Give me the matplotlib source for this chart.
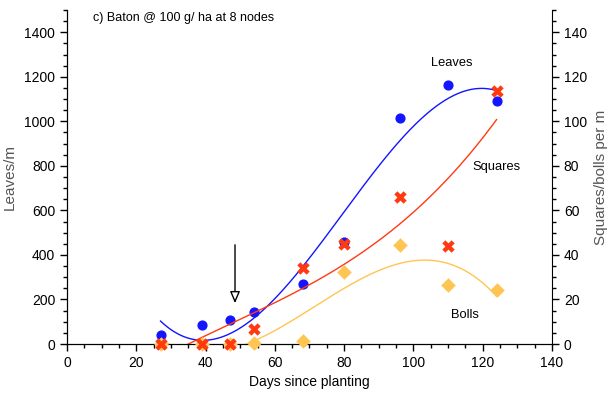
import matplotlib
matplotlib.use("Agg")
import matplotlib.pyplot as plt
import numpy as np
from matplotlib.ticker import MultipleLocator

plt.rcParams['font.family'] = ['Liberation Sans', 'DejaVu Sans']
plt.rcParams['font.size'] = 10

# sampling days
days = [27, 39, 47, 54, 68, 80, 96, 110, 124]
# leaves per m (left axis)
leaves = [40, 85, 108, 145, 271, 459, 1017, 1161, 1090]
# squares and bolls per m (right axis)
squares = [0, 0, 0, 6.8, 34, 45, 66, 44, 113.5]
bolls = [0, 0, 0, 0.5, 1.5, 32.3, 44.4, 26.3, 24.3]

leafColor = '#1414ff'
squareColor = '#ff3a12'
bollColor = '#ffc552'

fig = plt.figure(figsize=(6.09, 3.96), dpi=100)
ax = fig.add_axes([0.110, 0.1313, 0.7964, 0.8434])
ax2 = ax.twinx()

# cubic trend lines fitted to each series
xs = np.linspace(min(days), max(days), 300)
leafFit = np.polyval(np.polyfit(days, leaves, 3), xs)
squareFit = np.polyval(np.polyfit(days, squares, 3), xs)
bollFit = np.polyval(np.polyfit(days, bolls, 3), xs)

ax.plot(xs, leafFit, color=leafColor, lw=1)
ax2.plot(xs, squareFit, color=squareColor, lw=1)
ax2.plot(xs, bollFit, color=bollColor, lw=1)

ax.scatter(days, leaves, s=40, color=leafColor, zorder=5, clip_on=False)
ax2.scatter(days, bolls, s=55, marker='D', color=bollColor, zorder=4, clip_on=False, linewidths=0)
ax2.scatter(days, squares, s=80, marker='X', color=squareColor, zorder=5, clip_on=False, linewidths=0)

ax.set_xlim(0, 140)
ax.set_ylim(0, 1500)
ax2.set_ylim(0, 150)

ax.xaxis.set_major_locator(MultipleLocator(20))
ax.xaxis.set_minor_locator(MultipleLocator(5))
ax.yaxis.set_major_locator(MultipleLocator(200))
ax.yaxis.set_minor_locator(MultipleLocator(50))
ax2.yaxis.set_major_locator(MultipleLocator(20))
ax2.yaxis.set_minor_locator(MultipleLocator(5))

for a in (ax, ax2):
    a.spines['top'].set_visible(False)
    a.tick_params(which='major', direction='out', length=5, width=1, labelsize=10)
    a.tick_params(which='minor', direction='out', length=3, width=1)
ax.spines['right'].set_visible(False)
ax.yaxis.set_major_formatter(plt.FuncFormatter(lambda v, p: '%d' % v))

ax.set_xlabel('Days since planting', labelpad=4)
ax.set_ylabel('Leaves/m', color='#555555', fontsize=11, labelpad=5)
ax2.set_ylabel('Squares/bolls per m', color='#555555', fontsize=11, labelpad=5)

ax.text(7.5, 1463, 'c) Baton @ 100 g/ ha at 8 nodes', fontsize=9, va='center')
ax.text(111.1, 1262, 'Leaves', fontsize=9.3, ha='center', va='center')
ax.text(124.1, 797, 'Squares', fontsize=9.3, ha='center', va='center')
ax.text(114.9, 130, 'Bolls', fontsize=9.3, ha='center', va='center')

# application arrow
ax.annotate('', xy=(48.5, 171), xytext=(48.5, 458),
            arrowprops=dict(arrowstyle='-|>,head_length=0.7,head_width=0.3',
                            facecolor='white', edgecolor='black', lw=1))

fig.savefig('out.png', dpi=100)
